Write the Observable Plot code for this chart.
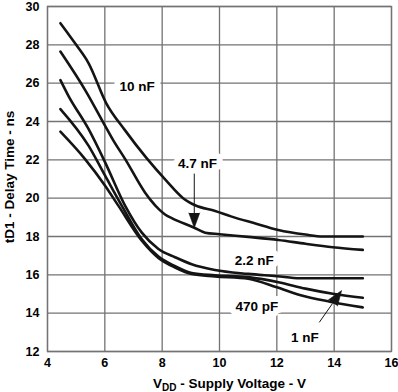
<!DOCTYPE html>
<html><head><meta charset="utf-8">
<script src="https://cdn.jsdelivr.net/npm/d3@7"></script>
<script src="https://cdn.jsdelivr.net/npm/@observablehq/plot@0.6"></script>
<style>
html,body{margin:0;padding:0;background:#fff;}
</style>
</head><body><div id="chart"></div>
<script>
// Axis ticks
const xTicks = [4, 6, 8, 10, 12, 14, 16];
const yTicks = [12, 14, 16, 18, 20, 22, 24, 26, 28, 30];

// Series (load capacitance): VDD (V) vs tD1 (ns)
const vdd_10nF = [4.45, 5.0, 5.43, 6.05, 6.7, 7.45, 8.15, 8.73, 8.95, 9.15, 9.85, 10.4, 11.2, 12.05, 13.0, 13.6, 15.0];
const td_10nF  = [29.13, 28.0, 27.05, 24.95, 23.55, 22.1, 20.9, 20.0, 19.78, 19.63, 19.33, 19.05, 18.7, 18.34, 18.1, 18.0, 18.0];

const vdd_4n7F = [4.45, 5.35, 6.0, 6.3, 6.71, 7.4, 7.6, 7.9, 8.1, 8.35, 9.1, 9.5, 10.0, 11.0, 12.05, 13.0, 13.95, 15.0];
const td_4n7F  = [27.65, 25.55, 23.8, 23.0, 22.04, 20.3, 19.9, 19.4, 19.15, 18.95, 18.47, 18.2, 18.12, 17.98, 17.82, 17.62, 17.44, 17.3];

const vdd_2n2F = [4.45, 4.73, 5.43, 6.01, 6.71, 7.29, 7.87, 8.45, 9.03, 9.84, 11.0, 12.0, 12.8, 15.0];
const td_2n2F  = [26.16, 25.34, 23.61, 21.87, 19.6, 18.2, 17.35, 16.92, 16.55, 16.25, 16.05, 15.93, 15.82, 15.82];

const vdd_1nF = [4.45, 5.43, 6.01, 6.59, 7.29, 7.87, 8.45, 9.03, 9.84, 11.0, 12.1, 13.0, 14.0, 15.0];
const td_1nF  = [24.65, 22.74, 21.17, 19.61, 17.85, 16.95, 16.45, 16.1, 15.98, 15.88, 15.6, 15.28, 15.0, 14.8];

const vdd_470pF = [4.45, 5.31, 6.01, 6.47, 7.29, 7.87, 8.45, 9.03, 9.84, 11.0, 12.0, 12.8, 13.85, 15.0];
const td_470pF  = [23.47, 22.04, 20.65, 19.61, 17.78, 16.88, 16.38, 16.04, 15.92, 15.8, 15.35, 14.95, 14.6, 14.3];

// Annotation labels
const labelText = ["10 nF", "4.7 nF", "2.2 nF", "470 pF", "1 nF"];
const labelX = [7.13, 9.23, 11.21, 11.30, 12.98];
const labelY = [25.81, 21.78, 16.74, 14.34, 12.74];

// Annotation arrows: shaft start, shaft end, head tip
const arrowFromX = [9.12, 13.48];
const arrowFromY = [21.28, 13.52];
const arrowToX = [9.12, 13.94];
const arrowToY = [19.21, 14.50];
const arrowTipX = [9.12, 14.26];
const arrowTipY = [18.45, 15.18];
const arrowAngle = [180, 35];

const curves = [
  {name: "10 nF", vdd: vdd_10nF, td: td_10nF},
  {name: "4.7 nF", vdd: vdd_4n7F, td: td_4n7F},
  {name: "2.2 nF", vdd: vdd_2n2F, td: td_2n2F},
  {name: "1 nF", vdd: vdd_1nF, td: td_1nF},
  {name: "470 pF", vdd: vdd_470pF, td: td_470pF}
];
const rows = curves.flatMap(c => c.vdd.map((v, i) => ({series: c.name, vdd: v, td: c.td[i]})));
const labels = labelText.map((t, i) => ({text: t, x: labelX[i], y: labelY[i]}));
const shafts = arrowFromX.map((_, i) => ({x1: arrowFromX[i], y1: arrowFromY[i], x2: arrowToX[i], y2: arrowToY[i]}));
const heads = arrowTipX.map((_, i) => ({x: arrowTipX[i], y: arrowTipY[i], a: arrowAngle[i]}));

const FONT = "'Liberation Sans', Arial, Helvetica, sans-serif";
const GRID = "#737373";
const INK = "#141414";

const chart = Plot.plot({
  width: 398, height: 392,
  marginLeft: 47, marginRight: 7, marginTop: 6, marginBottom: 41,
  style: {fontFamily: FONT, fontSize: "12.5px", fontWeight: "bold", background: "#fff", color: "#000"},
  x: {domain: [4, 16], ticks: xTicks, tickSize: 0, tickPadding: 7, label: null},
  y: {domain: [12, 30], ticks: yTicks, tickSize: 0, tickPadding: 8, label: null},
  marks: [
    Plot.ruleX(xTicks, {stroke: GRID, strokeWidth: 1.3}),
    Plot.ruleY(yTicks, {stroke: GRID, strokeWidth: 1.3}),
    Plot.frame({stroke: GRID, strokeWidth: 1.3}),
    Plot.text(labels, {x: "x", y: "y", text: "text", fill: "#000", stroke: "white", strokeWidth: 12, fontSize: 13.5}),
    Plot.line(rows, {x: "vdd", y: "td", z: "series", stroke: INK, strokeWidth: 2.6, curve: "monotone-x"}),
    Plot.link(shafts, {x1: "x1", y1: "y1", x2: "x2", y2: "y2", stroke: INK, strokeWidth: 1}),
    Plot.vector(heads, {x: "x", y: "y", rotate: "a", length: 15, r: 5.5, shape: "spike", anchor: "end", fill: INK, stroke: INK, strokeWidth: 0.5})
  ]
});

const svg = d3.select(chart);
// X axis title with subscript
const xt = svg.append("text")
  .attr("x", 153).attr("y", 388)
  .attr("text-anchor", "start")
  .attr("font-family", FONT).attr("font-size", 13.5).attr("font-weight", "bold").attr("fill", "#000");
xt.append("tspan").text("V");
xt.append("tspan").attr("font-size", 10).attr("dy", 3).text("DD");
xt.append("tspan").attr("dy", -3).text(" - Supply Voltage - V");
// Y axis title
svg.append("text")
  .attr("transform", "translate(14,177) rotate(-90)")
  .attr("text-anchor", "middle")
  .attr("font-family", FONT).attr("font-size", 13.5).attr("font-weight", "bold").attr("fill", "#000")
  .text("tD1 - Delay Time - ns");

document.getElementById("chart").appendChild(chart);
</script>
</body></html>
